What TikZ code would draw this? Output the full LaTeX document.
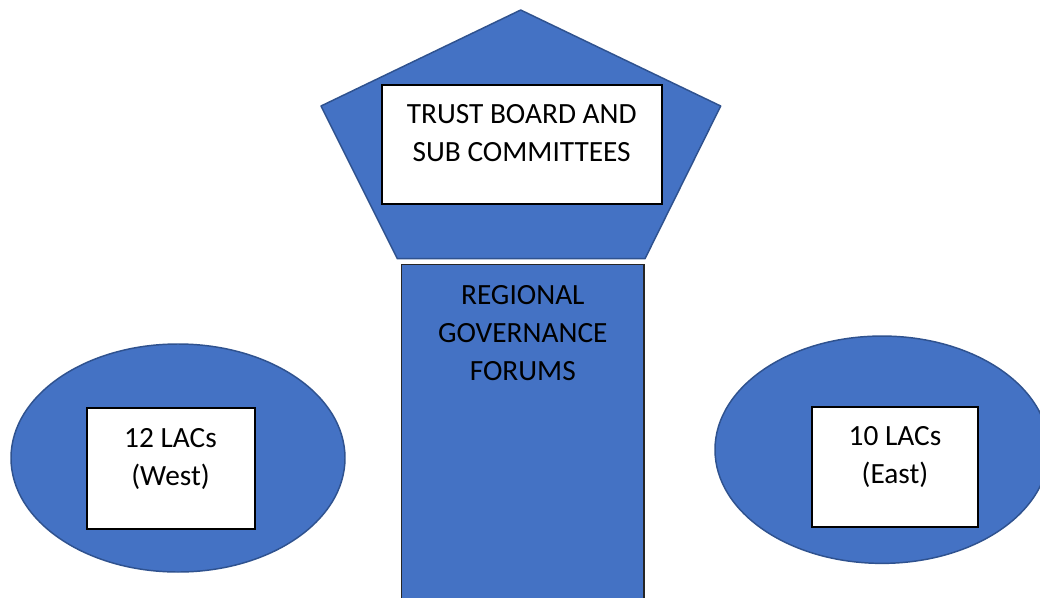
\documentclass[tikz,border=0pt]{standalone}
\usepackage{fontspec}
\setmainfont{Carlito}
\usetikzlibrary{shapes.geometric}
\definecolor{shapeblue}{HTML}{4472C4}
\definecolor{shapeedge}{HTML}{2F528F}
\begin{document}
\begin{tikzpicture}[x=0.75pt,y=-0.75pt,
  blueshape/.style={fill=shapeblue, draw=shapeedge, line width=1.1pt, line join=round},
  whitebox/.style={draw=black, fill=white, line width=1.5pt, inner sep=0pt},
  labeltext/.style={font=\fontsize{22}{28.5}\selectfont, align=center, anchor=base, inner sep=0pt}]
\useasboundingbox (0,0) rectangle (1040,597);
\fill[white] (0,0) rectangle (1040,597);

% trust board pentagon and its label box
\draw[blueshape] (520.7,10) -- (720.7,106) -- (645,258.7) -- (397.3,258.7) -- (321,106) -- cycle;
\node[whitebox, minimum width=210.5pt, minimum height=89.5pt] (board) at (522,144.35) {};
\node[labeltext] (boardtext) at (521.7,161.5) {TRUST BOARD AND\\SUB COMMITTEES};

% regional governance column
\node[fill=shapeblue, draw=black!85, line width=1pt, inner sep=0pt,
      minimum width=181.7pt, minimum height=266.8pt] (forum) at (522.8,442.15) {};
\node[labeltext] (forumtext) at (522.8,380) {REGIONAL\\GOVERNANCE\\FORUMS};

% west LACs
\node[blueshape, ellipse, inner sep=0pt, minimum width=250.5pt, minimum height=171pt] (west) at (178,458) {};
\node[whitebox, minimum width=125.55pt, minimum height=90.75pt] (westbox) at (171,468.8) {};
\node[labeltext] (westtext) at (170.5,485.5) {12 LACs\\(West)};

% east LACs
\node[blueshape, ellipse, inner sep=0pt, minimum width=250.5pt, minimum height=170.5pt] (east) at (882,449.7) {};
\node[whitebox, minimum width=124.95pt, minimum height=89.55pt] (eastbox) at (895,467) {};
\node[labeltext] (easttext) at (895,483.3) {10 LACs\\(East)};
\end{tikzpicture}
\end{document}
